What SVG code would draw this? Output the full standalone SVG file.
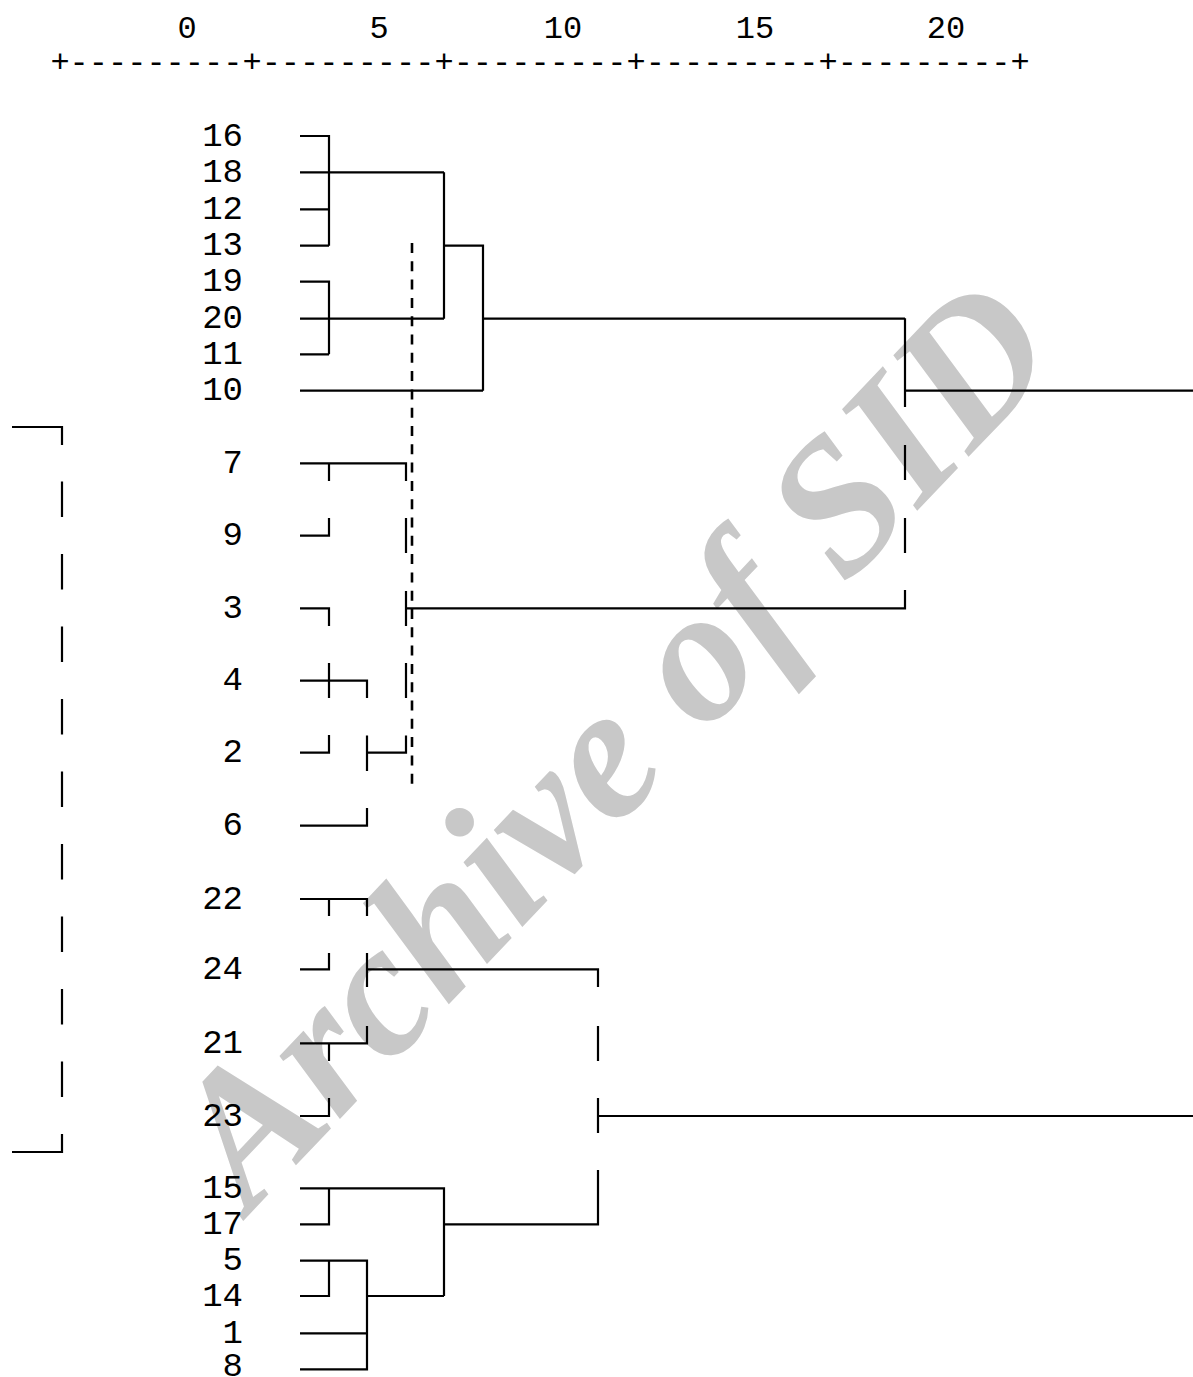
<svg xmlns="http://www.w3.org/2000/svg" width="1193" height="1377" viewBox="0 0 1193 1377">
<style>
.ax{font-family:"Liberation Mono","Courier New",monospace;font-size:32px;fill:#000}
.lb{font-family:"Liberation Mono","Courier New",monospace;font-size:34px;fill:#000;text-anchor:end}
.ln{fill:none;stroke:#000;stroke-width:2.2;stroke-linecap:butt;stroke-linejoin:miter}
.ds{fill:none;stroke:#000;stroke-width:2.6;stroke-dasharray:10 8.3}
.wm{font-family:"Liberation Serif","Times New Roman",serif;font-weight:bold;font-style:italic;font-size:190px;fill:#c8c8c8}
</style>
<rect width="1193" height="1377" fill="#fff"/>
<g id="watermark">
<text class="wm" x="0" y="0" text-anchor="middle" transform="translate(657,785) rotate(-46.5)">Archive of SID</text>
</g>
<g id="axis">
<text class="ax" x="187" y="38" text-anchor="middle">0</text>
<text class="ax" x="379" y="38" text-anchor="middle">5</text>
<text class="ax" x="563" y="38" text-anchor="middle">10</text>
<text class="ax" x="755" y="38" text-anchor="middle">15</text>
<text class="ax" x="946" y="38" text-anchor="middle">20</text>
<text class="ax" x="50.4" y="72">+---------+---------+---------+---------+---------+</text>
</g>
<g id="connectors">
<path class="ln" d="M300,136H329V245.7M300,172.3H444M300,209.3H329M300,245.7H329M300,281.7H329V354.3M300,318.7H444M300,354.3H329M444,172.3V318.7M444,245.7H483V390.7M300,390.7H483M483,318.7H905M905,318.3V407M905,445V480M905,518V553M905,590V608.3H406M905,390.7H1193"/>
<path class="ln" d="M300,463.3H406V481M329,463.3V481M300,535.7H329V518M406,518V553M300,608.3H329V626M406,591V626M300,680.7H367V698M329,663V698M406,663V698M300,752.7H329V735M367,735.5V771M367,752.7H406V735.5M300,825.7H367V808"/>
<path class="ln" d="M300,899H367V916M329,899V916M300,969.3H329V953M367,953V987M367,969.3H598V987M300,1043.3H367V1026M329,1043.3V1061M598,1026V1061M300,1116H329V1098M598,1098V1133M598,1116H1193M598,1170V1224.3H444"/>
<path class="ln" d="M300,1188.3H444V1296M329,1188.3V1224.3H300M300,1260.7H367V1369.3H300M329,1260.7V1296H300M367,1296H444M300,1333.3H367"/>
<path class="ln" d="M12,427H62V445M62,481.5V517M62,554V589.5M62,626.5V662M62,699V734.5M62,771.5V807M62,844V879.5M62,916.5V952M62,989V1024.5M62,1061.5V1097M62,1134V1152H12"/>
<path class="ds" d="M412,243V792"/>
</g>
<g id="n16"><text class="lb" x="243" y="145.5">16</text></g>
<g id="n18"><text class="lb" x="243" y="181.8">18</text></g>
<g id="n12"><text class="lb" x="243" y="218.8">12</text></g>
<g id="n13"><text class="lb" x="243" y="255.2">13</text></g>
<g id="n19"><text class="lb" x="243" y="291.2">19</text></g>
<g id="n20"><text class="lb" x="243" y="328.2">20</text></g>
<g id="n11"><text class="lb" x="243" y="363.8">11</text></g>
<g id="n10"><text class="lb" x="243" y="400.2">10</text></g>
<g id="n7"><text class="lb" x="243" y="472.8">7</text></g>
<g id="n9"><text class="lb" x="243" y="545.2">9</text></g>
<g id="n3"><text class="lb" x="243" y="617.8">3</text></g>
<g id="n4"><text class="lb" x="243" y="690.2">4</text></g>
<g id="n2"><text class="lb" x="243" y="762.2">2</text></g>
<g id="n6"><text class="lb" x="243" y="835.2">6</text></g>
<g id="n22"><text class="lb" x="243" y="908.5">22</text></g>
<g id="n24"><text class="lb" x="243" y="978.8">24</text></g>
<g id="n21"><text class="lb" x="243" y="1052.8">21</text></g>
<g id="n23"><text class="lb" x="243" y="1125.5">23</text></g>
<g id="n15"><text class="lb" x="243" y="1197.8">15</text></g>
<g id="n17"><text class="lb" x="243" y="1233.8">17</text></g>
<g id="n5"><text class="lb" x="243" y="1270.2">5</text></g>
<g id="n14"><text class="lb" x="243" y="1305.5">14</text></g>
<g id="n1"><text class="lb" x="243" y="1342.8">1</text></g>
<g id="n8"><text class="lb" x="243" y="1376">8</text></g>
</svg>
